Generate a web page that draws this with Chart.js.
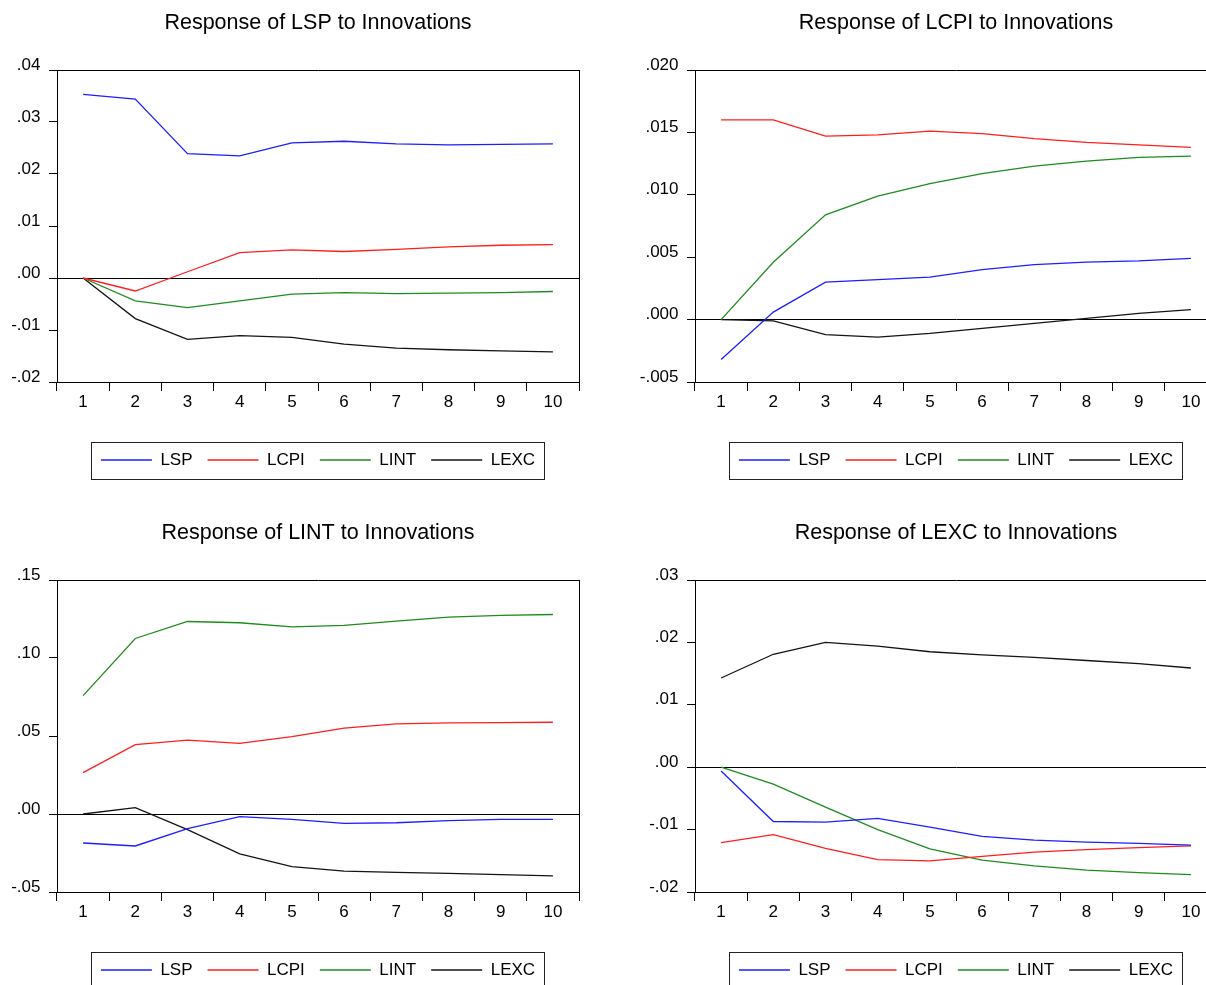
<!DOCTYPE html>
<html>
<head>
<meta charset="utf-8">
<script src="https://cdn.jsdelivr.net/npm/chart.js@4/dist/chart.umd.min.js"></script>
<style>
	html, body { margin: 0; padding: 0; overflow: hidden; background: #fff; }
	body { position: relative; width: 1206px; height: 985px; }
	canvas { position: absolute; }
</style>
</head>
<body>
<canvas id="lspChart" width="636" height="510" style="left:0px; top:0px;"></canvas>
<canvas id="lcpiChart" width="636" height="510" style="left:638px; top:0px;"></canvas>
<canvas id="lintChart" width="636" height="510" style="left:0px; top:510px;"></canvas>
<canvas id="lexcChart" width="636" height="510" style="left:638px; top:510px;"></canvas>
<script>
// periods and shock names
const periods = ['1', '2', '3', '4', '5', '6', '7', '8', '9', '10'];
const shockNames = ['LSP', 'LCPI', 'LINT', 'LEXC'];
const lineColors = ['rgb(30,30,255)', 'rgb(255,30,30)', 'rgb(30,140,30)', 'rgb(20,20,20)'];

// response of LSP
const lspToLsp  = [0.0353, 0.0344, 0.0239, 0.0235, 0.0260, 0.0263, 0.0258, 0.0256, 0.0257, 0.0258];
const lspToLcpi = [0.0, -0.0025, 0.0012, 0.0049, 0.0054, 0.0051, 0.0055, 0.0060, 0.0063, 0.0064];
const lspToLint = [0.0, -0.0044, -0.0057, -0.0044, -0.0031, -0.0028, -0.0030, -0.0029, -0.0028, -0.0026];
const lspToLexc = [0.0, -0.0078, -0.0118, -0.0111, -0.0114, -0.0127, -0.0135, -0.0138, -0.0140, -0.0142];

// response of LCPI
const lcpiToLsp  = [-0.0032, 0.0006, 0.0030, 0.0032, 0.0034, 0.0040, 0.0044, 0.0046, 0.0047, 0.0049];
const lcpiToLcpi = [0.0160, 0.0160, 0.0147, 0.0148, 0.0151, 0.0149, 0.0145, 0.0142, 0.0140, 0.0138];
const lcpiToLint = [0.0, 0.0046, 0.0084, 0.0099, 0.0109, 0.0117, 0.0123, 0.0127, 0.0130, 0.0131];
const lcpiToLexc = [0.0, -0.0001, -0.0012, -0.0014, -0.0011, -0.0007, -0.0003, 0.0001, 0.0005, 0.0008];

// response of LINT
const lintToLsp  = [-0.0186, -0.0205, -0.0094, -0.0017, -0.0034, -0.0060, -0.0056, -0.0043, -0.0035, -0.0034];
const lintToLcpi = [0.0265, 0.0445, 0.0473, 0.0453, 0.0496, 0.0550, 0.0578, 0.0584, 0.0586, 0.0588];
const lintToLint = [0.0759, 0.1125, 0.1234, 0.1226, 0.1200, 0.1209, 0.1236, 0.1262, 0.1273, 0.1279];
const lintToLexc = [0.0, 0.0041, -0.0100, -0.0255, -0.0338, -0.0366, -0.0374, -0.0381, -0.0389, -0.0396];

// response of LEXC
const lexcToLsp  = [-0.0006, -0.0087, -0.0088, -0.0082, -0.0096, -0.0111, -0.0117, -0.0120, -0.0122, -0.0125];
const lexcToLcpi = [-0.0121, -0.0108, -0.0130, -0.0148, -0.0150, -0.0143, -0.0136, -0.0132, -0.0129, -0.0126];
const lexcToLint = [0.0, -0.0027, -0.0064, -0.0100, -0.0131, -0.0149, -0.0158, -0.0165, -0.0169, -0.0172];
const lexcToLexc = [0.0143, 0.0181, 0.0200, 0.0194, 0.0185, 0.0180, 0.0176, 0.0171, 0.0166, 0.0159];

// y axis: min, max, step, decimals of tick labels
const lspAxis  = [-0.02, 0.04, 0.01, 2];
const lcpiAxis = [-0.005, 0.020, 0.005, 3];
const lintAxis = [-0.05, 0.15, 0.05, 2];
const lexcAxis = [-0.02, 0.03, 0.01, 2];

Chart.defaults.font.family = "'Liberation Sans', Arial, sans-serif";
Chart.defaults.color = '#000';

function fmtTick(v, dec) {
	var s = Math.abs(v) < 1e-12 ? (0).toFixed(dec) : v.toFixed(dec);
	return s.replace(/^(-?)0\./, '$1.');
}

//	box round the legend items
const legendBox = {
	id: 'legendBox',
	afterDraw(chart) {
		const boxes = chart.legend.legendHitBoxes;
		if (!boxes || !boxes.length) return;
		var l = Math.min(...boxes.map(b => b.left)) - 10;
		var r = Math.max(...boxes.map(b => b.left + b.width)) + 9;
		var t = boxes[0].top - 10;
		var b = boxes[0].top + boxes[0].height + 10;
		const ctx = chart.ctx;
		ctx.save();
		ctx.strokeStyle = '#222';
		ctx.lineWidth = 1;
		ctx.strokeRect(Math.round(l) + 0.5, Math.round(t) + 0.5, Math.round(r - l), Math.round(b - t));
		ctx.restore();
	}
};

function makePanel(id, title, series, axis) {
	const ctx = document.getElementById(id).getContext('2d');
	return new Chart(ctx, {
		type: 'line',
		data: {
			labels: periods,
			datasets: shockNames.map((name, i) => ({
				label: name,
				data: series[i],
				borderColor: lineColors[i],
				backgroundColor: lineColors[i],
				borderWidth: 1.3,
				pointRadius: 0,
				tension: 0,
				fill: false
			}))
		},
		options: {
			responsive: false,
			animation: false,
			events: [],
			layout: { padding: { top: 0, left: 0, right: 0, bottom: 31.5 } },
			plugins: {
				title: {
					display: true,
					text: title,
					color: '#000',
					font: { size: 21.5, weight: 'normal' },
					padding: { top: 10.1, bottom: 34.1 }
				},
				legend: {
					position: 'bottom',
					labels: {
						boxWidth: 51,
						boxHeight: 1.5,
						padding: 15,
						color: '#000',
						font: { size: 17 },
						generateLabels: chart => Chart.defaults.plugins.legend.labels.generateLabels(chart)
							.map(item => Object.assign(item, { lineWidth: 0, fillStyle: item.strokeStyle }))
					}
				},
				tooltip: { enabled: false }
			},
			scales: {
				x: {
					type: 'category',
					offset: true,
					grid: { offset: true, drawOnChartArea: false, tickLength: 9, color: '#000' },
					border: { color: '#000' },
					ticks: { color: '#000', font: { size: 17 }, padding: 1, maxRotation: 0, autoSkip: false },
					afterFit: s => { s.height = 54.5; }
				},
				xTop: {
					type: 'category',
					position: 'top',
					grid: { display: false },
					ticks: { display: false },
					border: { display: true, color: '#000' },
					afterFit: s => { s.height = 0; }
				},
				y: {
					min: axis[0],
					max: axis[1],
					ticks: {
						stepSize: axis[2],
						color: '#000',
						font: { size: 17 },
						padding: 8.5,
						labelOffset: -5,
						callback: v => fmtTick(v, axis[3])
					},
					grid: {
						color: c => (c.tick && Math.abs(c.tick.value) < 1e-9) ? '#000' : 'rgba(0,0,0,0)',
						tickColor: '#000',
						tickLength: 8,
						lineWidth: 1
					},
					border: { color: '#000' },
					afterFit: s => { s.width = 57; }
				},
				yRight: {
					position: 'right',
					grid: { display: false },
					ticks: { display: false },
					border: { display: true, color: '#000' },
					afterFit: s => { s.width = 57; }
				}
			}
		},
		plugins: [legendBox]
	});
}

makePanel('lspChart', 'Response of LSP to Innovations', [lspToLsp, lspToLcpi, lspToLint, lspToLexc], lspAxis);
makePanel('lcpiChart', 'Response of LCPI to Innovations', [lcpiToLsp, lcpiToLcpi, lcpiToLint, lcpiToLexc], lcpiAxis);
makePanel('lintChart', 'Response of LINT to Innovations', [lintToLsp, lintToLcpi, lintToLint, lintToLexc], lintAxis);
makePanel('lexcChart', 'Response of LEXC to Innovations', [lexcToLsp, lexcToLcpi, lexcToLint, lexcToLexc], lexcAxis);
</script>
</body>
</html>
